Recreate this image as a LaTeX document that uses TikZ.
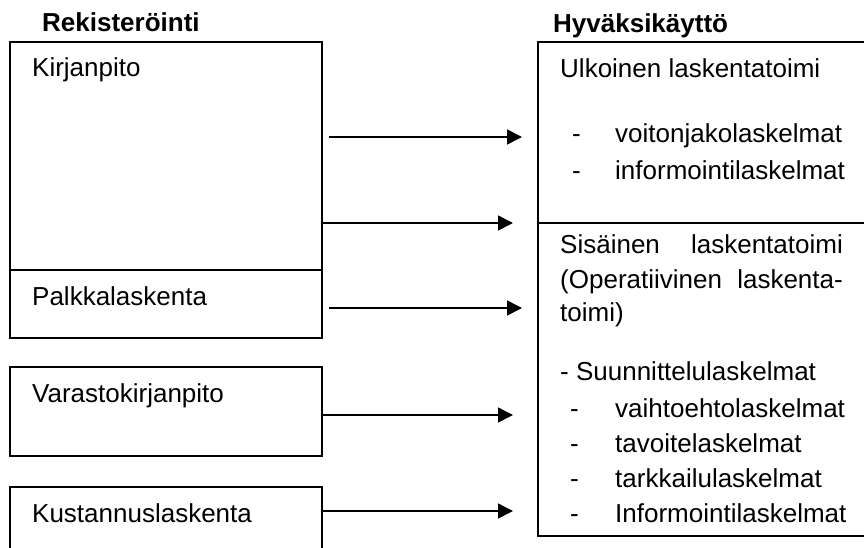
\documentclass[tikz,border=0pt]{standalone}
\usepackage{fontspec}
\setmainfont{Liberation Sans}
\usetikzlibrary{arrows.meta}
\begin{document}
\begin{tikzpicture}[x=1pt,y=-1pt,
  box/.style={draw, line width=1.6pt, rectangle, anchor=north west,
    inner sep=0pt, outer sep=0pt},
  lbl/.style={anchor=base west, inner sep=0pt, font=\fontsize{26}{32}\selectfont},
  rlbl/.style={lbl, anchor=base east},
  head/.style={lbl, font=\fontsize{26}{32}\selectfont\bfseries},
  arr/.style={line width=1.6pt, -{Triangle[length=15pt,width=15pt]}}]
\useasboundingbox (0,0) rectangle (864,548);
\begin{scope}
\clip (0,0) rectangle (864,548);
% registering side
\node[box, minimum width=312pt, minimum height=228pt] (kirj) at (10,42) {};
\node[box, minimum width=312pt, minimum height=68pt]  (palk) at (10,270) {};
\node[box, minimum width=312pt, minimum height=89pt]  (vara) at (10,367) {};
\node[box, minimum width=312pt, minimum height=100pt] (kust) at (10,487) {};
% use side
\node[box, minimum width=362pt, minimum height=181pt] (ulk) at (538,42) {};
\node[box, minimum width=362pt, minimum height=313pt] (sis) at (538,223) {};
\end{scope}

% headings
\node[head] (hrek) at (42,32) {Rekisteröinti};
\node[head] (hhyv) at (553,33) {Hyväksikäyttö};

% left labels
\node[lbl] (tkirj) at (32,77)  {Kirjanpito};
\node[lbl] (tpalk) at (32,305) {Palkkalaskenta};
\node[lbl] (tvara) at (32,402) {Varastokirjanpito};
\node[lbl] (tkust) at (32,522) {Kustannuslaskenta};

% external accounting
\node[lbl] (u0)  at (560,78)  {Ulkoinen laskentatoimi};
\node[lbl] (u1d) at (572,143) {-};
\node[lbl] (u1)  at (615,143) {voitonjakolaskelmat};
\node[lbl] (u2d) at (572,180) {-};
\node[lbl] (u2)  at (615,180) {informointilaskelmat};

% internal accounting
\node[lbl]  (s0a) at (560,253) {Sisäinen};
\node[rlbl] (s0b) at (843,253) {laskentatoimi};
\node[lbl]  (s1a) at (560,288) {(Operatiivinen};
\node[rlbl] (s1b) at (843,288) {laskenta-};
\node[lbl]  (s2)  at (560,321) {toimi)};
\node[lbl]  (s3)  at (560,380) {- Suunnittelulaskelmat};
\node[lbl] (s4d) at (570,417) {-};
\node[lbl] (s4)  at (615,417) {vaihtoehtolaskelmat};
\node[lbl] (s5d) at (570,452) {-};
\node[lbl] (s5)  at (615,452) {tavoitelaskelmat};
\node[lbl] (s6d) at (570,487) {-};
\node[lbl] (s6)  at (615,487) {tarkkailulaskelmat};
\node[lbl] (s7d) at (570,522) {-};
\node[lbl] (s7)  at (615,522) {Informointilaskelmat};

% flows
\draw[arr] ([xshift=7pt]kirj.east |- 0,137) -- ([xshift=-16pt]ulk.west |- 0,137);
\draw[arr] (kirj.east |- ulk.south) -- ([xshift=-25pt]ulk.south west);
\draw[arr] ([xshift=7pt]palk.east |- 0,308) -- ([xshift=-16pt]sis.west |- 0,308);
\draw[arr] (vara.east |- 0,415) -- ([xshift=-25pt]sis.west |- 0,415);
\draw[arr] (kust.east |- 0,511) -- ([xshift=-25pt]sis.west |- 0,511);
\end{tikzpicture}
\end{document}
